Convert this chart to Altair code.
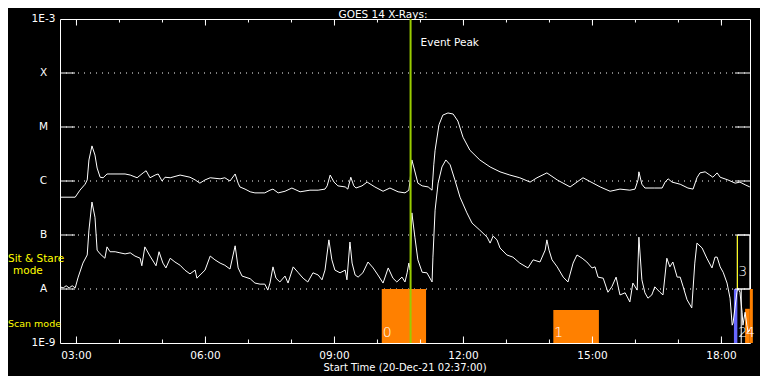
import altair as alt
import pandas as pd

# GOES 14 long channel (1-8 A): (hour of day UT, log10 flux W/m^2)
long_readings = [
    (2.62, -6.30), (2.97, -6.30), (3.08, -6.17), (3.20, -6.06), (3.25, -5.98), (3.29, -5.61),
    (3.36, -5.35), (3.43, -5.52), (3.48, -5.76), (3.55, -5.93), (3.62, -5.94), (3.71, -5.87),
    (3.78, -5.87), (4.13, -5.87), (4.25, -5.89), (4.41, -5.94), (4.55, -5.85), (4.62, -5.81),
    (4.71, -5.94), (4.83, -5.89), (4.90, -5.87), (4.99, -6.00), (5.06, -5.93), (5.18, -5.94),
    (5.41, -5.89), (5.64, -5.93), (5.76, -5.98), (5.87, -6.04), (5.99, -5.98), (6.11, -5.94),
    (6.34, -5.96), (6.45, -5.94), (6.57, -6.00), (6.69, -5.87), (6.76, -6.04), (6.80, -6.11),
    (6.92, -6.15), (7.04, -6.20), (7.15, -6.22), (7.38, -6.22), (7.50, -6.17), (7.57, -6.15),
    (7.69, -6.22), (7.85, -6.19), (8.01, -6.13), (8.20, -6.20), (8.43, -6.17), (8.62, -6.17),
    (8.78, -6.15), (8.83, -6.09), (8.90, -5.89), (8.99, -6.02), (9.08, -6.09), (9.25, -6.11),
    (9.31, -6.15), (9.38, -5.93), (9.45, -6.09), (9.50, -6.13), (9.64, -6.09), (9.76, -6.02),
    (9.94, -6.11), (10.13, -6.19), (10.29, -6.13), (10.48, -6.20), (10.64, -6.22), (10.73, -6.17),
    (10.76, -5.98), (10.80, -5.61), (10.85, -5.76), (10.94, -6.04), (11.04, -6.09), (11.18, -6.11),
    (11.27, -6.17), (11.31, -5.70), (11.34, -5.43), (11.43, -4.96), (11.52, -4.78), (11.64, -4.74),
    (11.76, -4.76), (11.87, -4.89), (11.99, -5.19), (12.15, -5.43), (12.38, -5.61), (12.62, -5.74),
    (12.85, -5.83), (13.08, -5.89), (13.31, -5.94), (13.55, -6.02), (13.71, -5.94), (13.94, -5.85),
    (14.18, -5.98), (14.48, -6.11), (14.78, -5.94), (15.18, -6.11), (15.41, -6.19), (15.64, -6.15),
    (15.87, -6.17), (15.99, -6.15), (16.06, -5.98), (16.08, -5.83), (16.15, -6.06), (16.22, -6.13),
    (16.45, -6.13), (16.62, -6.13), (16.69, -6.02), (16.76, -5.96), (16.85, -6.02), (17.04, -6.06),
    (17.22, -6.13), (17.34, -6.15), (17.43, -5.94), (17.50, -5.85), (17.62, -5.83), (17.73, -5.89),
    (17.80, -5.93), (17.90, -5.85), (17.97, -5.93), (18.15, -5.98), (18.32, -6.04), (18.43, -6.02),
    (18.55, -6.07), (18.66, -6.11),
]

# GOES 14 short channel (0.5-4 A): (hour of day UT, log10 flux W/m^2)
short_readings = [
    (2.62, -7.96), (2.69, -7.98), (2.76, -7.94), (2.83, -7.98), (2.90, -7.94), (2.97, -7.98),
    (3.04, -7.78), (3.15, -7.52), (3.25, -7.37), (3.29, -6.91), (3.36, -6.39), (3.43, -6.67),
    (3.48, -7.28), (3.55, -7.35), (3.66, -7.43), (3.71, -7.22), (3.78, -7.31), (3.90, -7.31),
    (4.01, -7.33), (4.13, -7.35), (4.25, -7.33), (4.36, -7.39), (4.48, -7.43), (4.52, -7.57),
    (4.59, -7.22), (4.71, -7.39), (4.85, -7.57), (4.92, -7.31), (5.01, -7.52), (5.08, -7.61),
    (5.18, -7.43), (5.29, -7.50), (5.41, -7.56), (5.52, -7.65), (5.64, -7.72), (5.76, -7.65),
    (5.80, -7.80), (5.99, -7.65), (6.11, -7.39), (6.22, -7.46), (6.34, -7.52), (6.45, -7.56),
    (6.57, -7.63), (6.69, -7.20), (6.76, -7.61), (6.85, -7.76), (7.04, -7.81), (7.15, -7.89),
    (7.27, -7.91), (7.38, -7.91), (7.45, -8.02), (7.50, -7.89), (7.57, -7.59), (7.64, -7.80),
    (7.73, -7.87), (7.85, -7.76), (7.92, -7.89), (8.04, -7.59), (8.15, -7.69), (8.27, -7.80),
    (8.38, -7.87), (8.50, -7.70), (8.62, -7.74), (8.71, -7.83), (8.78, -7.65), (8.87, -7.09),
    (8.94, -7.46), (9.01, -7.65), (9.13, -7.70), (9.25, -7.65), (9.29, -7.83), (9.36, -7.13),
    (9.41, -7.52), (9.48, -7.74), (9.55, -7.78), (9.66, -7.70), (9.78, -7.50), (9.90, -7.61),
    (10.01, -7.74), (10.13, -7.89), (10.25, -7.61), (10.36, -7.80), (10.45, -7.87), (10.57, -7.78),
    (10.64, -7.87), (10.69, -7.70), (10.73, -7.52), (10.76, -7.65), (10.80, -6.59), (10.87, -7.04),
    (10.94, -7.46), (11.04, -7.69), (11.15, -7.70), (11.27, -7.87), (11.29, -7.41), (11.34, -6.54),
    (11.41, -6.04), (11.50, -5.74), (11.59, -5.61), (11.69, -5.70), (11.80, -5.98), (11.92, -6.30),
    (12.08, -6.59), (12.20, -6.78), (12.38, -6.91), (12.55, -7.04), (12.62, -7.15), (12.69, -7.02),
    (12.78, -7.09), (12.85, -7.24), (13.01, -7.37), (13.15, -7.41), (13.31, -7.52), (13.50, -7.61),
    (13.62, -7.46), (13.78, -7.50), (13.90, -7.28), (13.94, -7.09), (13.99, -7.28), (14.06, -7.46),
    (14.18, -7.59), (14.32, -7.78), (14.43, -7.87), (14.55, -7.52), (14.64, -7.37), (14.76, -7.43),
    (14.87, -7.50), (14.99, -7.61), (15.06, -7.59), (15.13, -7.78), (15.25, -7.80), (15.36, -8.06),
    (15.45, -7.96), (15.55, -7.78), (15.64, -8.11), (15.76, -8.07), (15.87, -8.24), (15.94, -7.89),
    (16.04, -8.02), (16.08, -7.04), (16.15, -7.83), (16.22, -8.07), (16.29, -8.17), (16.38, -8.11),
    (16.45, -7.96), (16.57, -8.06), (16.64, -8.11), (16.73, -7.43), (16.80, -7.59), (16.87, -7.50),
    (16.97, -7.78), (17.04, -7.78), (17.11, -7.96), (17.20, -8.20), (17.31, -8.35), (17.38, -7.52),
    (17.43, -7.15), (17.55, -7.24), (17.66, -7.43), (17.78, -7.61), (17.85, -7.41), (17.90, -7.41),
    (17.97, -7.59), (18.04, -7.69), (18.13, -7.89), (18.20, -8.17), (18.25, -8.67), (18.27, -8.63),
    (18.36, -8.06), (18.38, -7.98), (18.43, -8.06), (18.48, -8.43), (18.50, -8.67), (18.55, -8.43),
    (18.59, -8.67), (18.62, -8.80), (18.66, -8.76),
]

start_hour = 2 + 37 / 60
end_hour = 18.664
event_peak_hour = 10.77

tick_hours = list(range(3, 19))
major_hours = [3, 6, 9, 12, 15, 18]
hour_labels = ["03:00", "06:00", "09:00", "12:00", "15:00", "18:00"]

level_flux = [1e-9, 1e-8, 1e-7, 1e-6, 1e-5, 1e-4, 1e-3]
level_labels = ["1E-9", "A", "B", "C", "M", "X", "1E-3"]
grid_flux = [1e-8, 1e-7, 1e-6, 1e-5, 1e-4]

# observation windows (scan / sit & stare)
scan_start = [10.10, 14.09, 18.29, 18.55, 18.66]
scan_end = [11.13, 15.15, 18.37, 18.66, 18.73]
scan_top = [1e-8, 4.1e-9, 1e-8, 4.3e-9, 1e-8]
scan_kind = ["scan", "scan", "blue", "scan", "scan"]
scan_label_text = ["0", "1", "2", "4"]
scan_label_hour = [10.10, 14.09, 18.37, 18.55]
stare_start, stare_end = 18.37, 18.66
stare_low, stare_high = 1e-8, 1e-7

FONT = "DejaVu Sans"
W, H = 690, 324

xs = alt.Scale(domain=[start_hour, end_hour], zero=False, nice=False)
ys = alt.Scale(type="log", domain=[1e-9, 1e-3], nice=False)

df_long = pd.DataFrame(long_readings, columns=["hour", "logf"])
df_long["flux"] = 10 ** df_long["logf"]
df_short = pd.DataFrame(short_readings, columns=["hour", "logf"])
df_short["flux"] = 10 ** df_short["logf"]

df_grid = pd.DataFrame({"flux": grid_flux})
df_levels = pd.DataFrame({"flux": level_flux, "label": level_labels})
df_ticks = pd.DataFrame({"hour": tick_hours})
df_major = pd.DataFrame({"hour": major_hours, "label": hour_labels})
df_scan = pd.DataFrame({"start": scan_start, "end": scan_end, "top": scan_top,
                        "bottom": [1e-9] * len(scan_start), "kind": scan_kind})
df_scan_lab = pd.DataFrame({"hour": scan_label_hour, "label": scan_label_text})
df_stare = pd.DataFrame({"start": [stare_start], "end": [stare_end],
                         "low": [stare_low], "high": [stare_high]})
df_event = pd.DataFrame({"hour": [event_peak_hour], "label": ["Event Peak"]})

X = lambda f: alt.X(f, type="quantitative", scale=xs, axis=None)
Y = lambda f: alt.Y(f, type="quantitative", scale=ys, axis=None)

grid = alt.Chart(df_grid).mark_rule(color="white", strokeDash=[1, 5], strokeWidth=1).encode(
    y=Y("flux"), x=alt.value(0), x2=alt.value(W))

ytick_l = alt.Chart(df_grid).mark_rule(color="white", strokeWidth=1).encode(
    y=Y("flux"), x=alt.value(0), x2=alt.value(15))
ytick_r = alt.Chart(df_grid).mark_rule(color="white", strokeWidth=1).encode(
    y=Y("flux"), x=alt.value(W - 15), x2=alt.value(W))

bars = alt.Chart(df_scan).mark_rect(clip=False).encode(
    x=X("start"), x2="end", y=Y("top"), y2="bottom",
    color=alt.Color("kind:N", scale=alt.Scale(domain=["scan", "blue"], range=["#ff8000", "#6868ff"]),
                    legend=None))

stare_box = alt.Chart(df_stare).mark_rect(fill=None, stroke="white", strokeWidth=1, clip=False).encode(
    x=X("start"), x2="end", y=Y("high"), y2="low")
stare_edge = alt.Chart(df_stare).mark_rule(color="#ffff00", strokeWidth=1).encode(
    x=X("start"), y=Y("high"), y2="low")
box2_edge = alt.Chart(pd.DataFrame({"hour": [18.46], "a": [1e-9], "b": [1e-8]})).mark_rule(
    color="white", strokeWidth=1).encode(x=X("hour"), y=Y("a"), y2="b")

line_long = alt.Chart(df_long).mark_line(color="white", strokeWidth=1).encode(x=X("hour"), y=Y("flux"))
line_short = alt.Chart(df_short).mark_line(color="white", strokeWidth=1).encode(x=X("hour"), y=Y("flux"))

event = alt.Chart(df_event).mark_rule(color="#99cc00", strokeWidth=2).encode(
    x=X("hour"), y=alt.value(0), y2=alt.value(H))
event_txt = alt.Chart(df_event).mark_text(color="white", font=FONT, fontSize=10.5, align="left",
                                          baseline="middle", dx=10).encode(
    x=X("hour"), y=alt.value(23.5), text="label:N")

xt_bot = alt.Chart(df_ticks).mark_rule(color="white").encode(x=X("hour"), y=alt.value(H - 3.5), y2=alt.value(H))
xt_top = alt.Chart(df_ticks).mark_rule(color="white").encode(x=X("hour"), y=alt.value(0), y2=alt.value(3.5))
xt_bot_m = alt.Chart(df_major).mark_rule(color="white").encode(x=X("hour"), y=alt.value(H - 6.5), y2=alt.value(H))
xt_top_m = alt.Chart(df_major).mark_rule(color="white").encode(x=X("hour"), y=alt.value(0), y2=alt.value(6.5))

xlab = alt.Chart(df_major).mark_text(color="white", font=FONT, fontSize=10.5, baseline="middle").encode(
    x=X("hour"), y=alt.value(H + 12.5), text="label:N")
ylab = alt.Chart(df_levels).mark_text(color="white", font=FONT, fontSize=10.5, baseline="middle").encode(
    y=Y("flux"), x=alt.value(-16.5), text="label:N")

scan_lab = alt.Chart(df_scan_lab).mark_text(color="white", font=FONT, fontSize=14, fontWeight=300,
                                            align="left", baseline="middle", dx=1).encode(
    x=X("hour"), y=alt.value(314), text="label:N")
stare_lab = alt.Chart(pd.DataFrame({"hour": [18.37], "label": ["3"]})).mark_text(
    color="white", font=FONT, fontSize=14, fontWeight=300, align="left", baseline="middle", dx=1).encode(
    x=X("hour"), y=alt.value(252.5), text="label:N")

title = alt.Chart(pd.DataFrame({"t": ["GOES 14 X-Rays:"]})).mark_text(
    color="white", font=FONT, fontSize=10.5, baseline="alphabetic").encode(
    x=alt.value(323), y=alt.value(-1), text="t:N")
xtitle = alt.Chart(pd.DataFrame({"t": ["Start Time (20-Dec-21 02:37:00)"]})).mark_text(
    color="white", font=FONT, fontSize=10, baseline="middle").encode(
    x=alt.value(345), y=alt.value(349), text="t:N")

side = pd.DataFrame({"t": ["Sit & Stare", "mode", "Scan mode"],
                     "px": [-52, -47, -52], "py": [240, 252, 305], "fs": [10.5, 10.5, 9.5]})
side_txt = alt.Chart(side).mark_text(color="#ffff00", font=FONT, align="left",
                                     baseline="middle").encode(
    x=alt.X("px:Q", scale=None, axis=None), y=alt.Y("py:Q", scale=None, axis=None),
    size=alt.Size("fs:Q", scale=None, legend=None), text="t:N")

chart = alt.layer(
    grid, bars, stare_box, stare_edge, box2_edge, line_long, line_short, event,
    ytick_l, ytick_r, xt_bot, xt_top, xt_bot_m, xt_top_m,
    xlab, ylab, event_txt, scan_lab, stare_lab, title, xtitle, side_txt,
).resolve_scale(x="shared", y="shared").properties(
    width=W, height=H, background="black",
    padding={"left": 52, "top": 11, "right": 10, "bottom": 33},
    autosize=alt.AutoSizeParams(type="none"),
).configure_view(stroke="white", strokeWidth=1)

chart.save("out.html", embed_options={"renderer": "svg", "actions": False})
